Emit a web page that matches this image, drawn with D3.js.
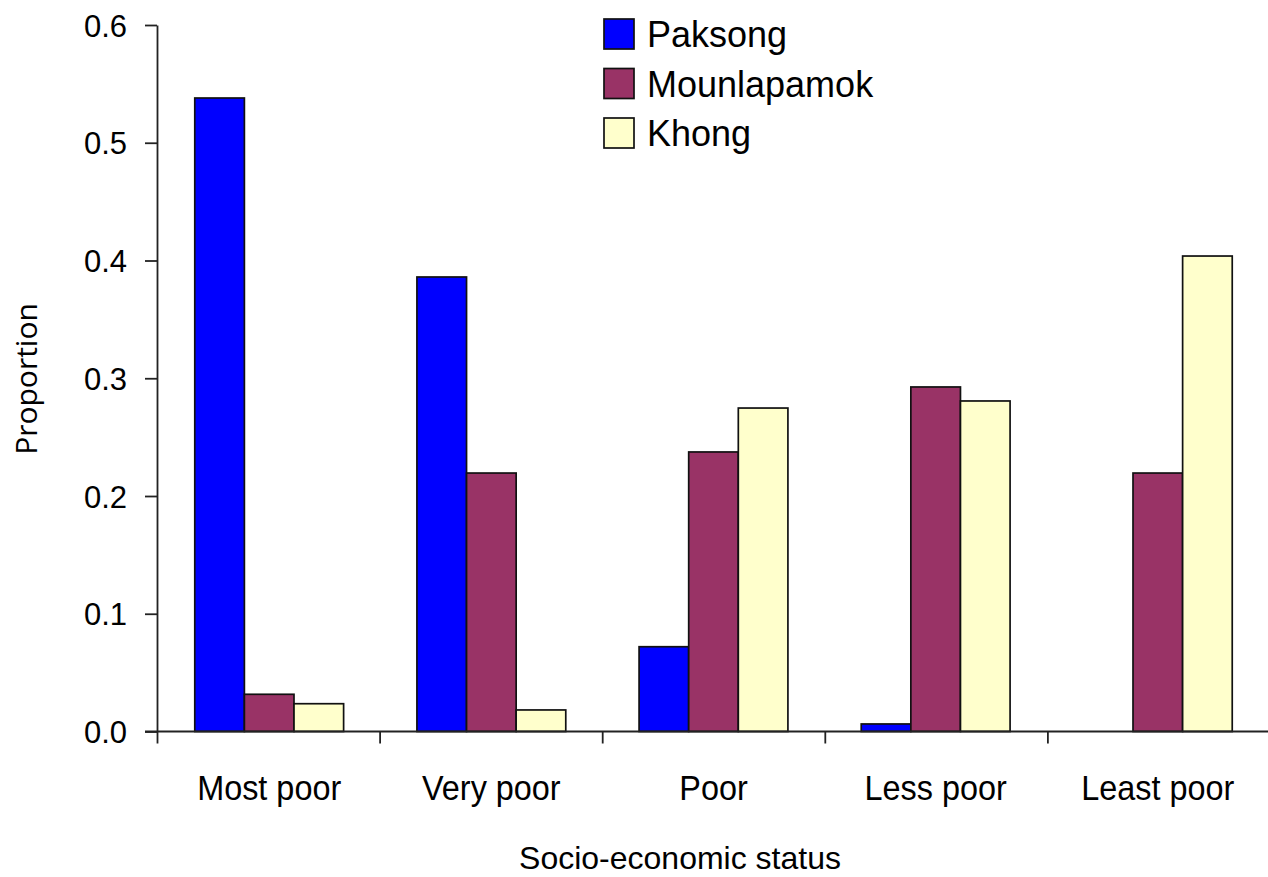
<!DOCTYPE html>
<html>
<head>
<meta charset="utf-8">
<script src="https://cdn.jsdelivr.net/npm/d3@7"></script>
<style>
  body { margin: 0; background: #fff; }
  svg text { font-family: "Liberation Sans", Arial, sans-serif; fill: #000; }
</style>
</head>
<body>
<svg id="chart" width="1268" height="877"></svg>
<script>
// data
var categories = ["Most poor", "Very poor", "Poor", "Less poor", "Least poor"]
var seriesNames = ["Paksong", "Mounlapamok", "Khong"]
var paksong = [0.538, 0.386, 0.072, 0.0064, 0]
var mounlapamok = [0.0316, 0.2195, 0.2374, 0.2926, 0.2195]
var khong = [0.0236, 0.0183, 0.2747, 0.2807, 0.4038]
var yTicks = [0, 0.1, 0.2, 0.3, 0.4, 0.5, 0.6]

var colors = ["#0000ff", "#993366", "#ffffcc"]
var values = [paksong, mounlapamok, khong]

var svg = d3.select("#chart")

// note: "top" is taken by window.top, so use other names
var plotLeft = 157, plotBottom = 731.5, plotTop = 25, step = 222.6

var y = d3.scaleLinear().domain([0, 0.6]).range([plotBottom, plotTop])

var x0 = d3.scaleBand()
    .domain(categories)
    .range([plotLeft, plotLeft + step * categories.length])
    .paddingInner(0.33)
    .paddingOuter(0.17)

var x1 = d3.scaleBand()
    .domain(seriesNames)
    .range([0, x0.bandwidth()])

// bars
var rows = categories.map((c, i) => ({cat: c, vals: seriesNames.map((s, j) => ({s: s, v: values[j][i], j: j}))}))

var groups = svg.selectAll("g.grp")
    .data(rows)
    .enter().append("g")
    .attr("class", "grp")
    .attr("transform", d => `translate(${x0(d.cat)},0)`)

groups.selectAll("rect")
    .data(d => d.vals.filter(e => e.v > 0))
    .enter().append("rect")
    .attr("x", d => x1(d.s))
    .attr("y", d => y(d.v))
    .attr("width", x1.bandwidth())
    .attr("height", d => plotBottom - y(d.v))
    .style("fill", d => colors[d.j])
    .style("stroke", "#111")
    .style("stroke-width", 1.7)

// y axis
var yAxis = svg.append("g")
    .attr("transform", `translate(${plotLeft},0)`)
    .call(d3.axisLeft(y).tickValues(yTicks).tickFormat(d3.format(".1f")).tickSize(12).tickSizeOuter(0).tickPadding(18))

yAxis.selectAll("text").style("font-size", "31px").attr("dy", "0.36em")
yAxis.selectAll("line, path").style("stroke", "#222").style("stroke-width", 1.8)

// x axis: ticks at the category boundaries
var xb = d3.scaleLinear().domain([0, categories.length]).range([plotLeft, plotLeft + step * categories.length])

var xAxis = svg.append("g")
    .attr("transform", `translate(0,${plotBottom})`)
    .call(d3.axisBottom(xb).ticks(categories.length).tickFormat("").tickSize(12).tickSizeOuter(0))

xAxis.select("path").remove()
xAxis.append("line")
    .attr("x1", 145).attr("x2", 1268)
xAxis.selectAll("line").style("stroke", "#222").style("stroke-width", 1.8)

// category labels, slightly condensed like the original
svg.selectAll("text.cat")
    .data(categories)
    .enter().append("text")
    .attr("class", "cat")
    .attr("transform", d => `translate(${x0(d) + x0.bandwidth() / 2},800) scale(0.9,1)`)
    .attr("text-anchor", "middle")
    .style("font-size", "36px")
    .text(d => d)

// axis titles
svg.append("text")
    .attr("x", 680).attr("y", 869)
    .attr("text-anchor", "middle")
    .style("font-size", "32px")
    .text("Socio-economic status")

svg.append("text")
    .attr("transform", "translate(25,379) rotate(-90)")
    .attr("text-anchor", "middle")
    .attr("dominant-baseline", "central")
    .style("font-family", "'Open Sans', sans-serif")
    .style("font-size", "30px")
    .text("Proportion")

// legend
var legend = svg.selectAll("g.leg")
    .data(seriesNames)
    .enter().append("g")
    .attr("class", "leg")
    .attr("transform", (d, i) => `translate(604,${19 + i * 49.5})`)

legend.append("rect")
    .attr("width", 30).attr("height", 30)
    .style("fill", (d, i) => colors[i])
    .style("stroke", "#111")
    .style("stroke-width", 1.7)

legend.append("text")
    .attr("x", 43).attr("y", 28)
    .style("font-size", "36px")
    .text(d => d)
</script>
</body>
</html>
